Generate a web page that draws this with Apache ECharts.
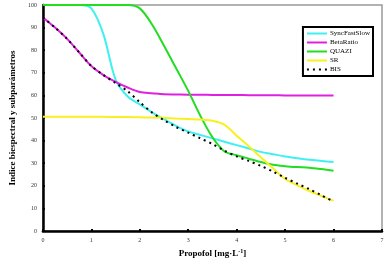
<!DOCTYPE html>
<html>
<head>
<meta charset="utf-8">
<script src="https://cdn.jsdelivr.net/npm/echarts@6/dist/echarts.min.js"></script>
<style>
  html, body { margin: 0; padding: 0; background: #fff; }
  #chart { width: 387px; height: 263px; }
</style>
</head>
<body>
<div id="chart"></div>
<script>
// propofol concentration [mg/L], same grid for every series
const dose = [0, 0.25, 0.5, 0.75, 1, 1.25, 1.5, 1.75, 2, 2.25, 2.5, 2.75, 3,
  3.25, 3.5, 3.75, 4, 4.25, 4.5, 4.75, 5, 5.25, 5.5, 5.75, 6]

const syncFastSlow = [100, 100, 100, 100, 98.5, 87, 67, 59.5, 56, 52.5, 49.5, 46.5, 44,
  42.5, 41, 39.5, 38, 36.5, 35, 34, 33, 32.2, 31.5, 31, 30.5]
const betaRatio = [94.5, 90, 85, 79, 73, 69, 66, 63.5, 61.5, 61, 60.5, 60.4, 60.3,
  60.3, 60.2, 60.2, 60.2, 60.1, 60.1, 60.1, 60, 60, 60, 60, 60]
const quazi = [100, 100, 100, 100, 100, 100, 100, 100, 98.5, 91.5, 82, 72, 62,
  51, 41.5, 35.2, 33.5, 32, 30.5, 29.3, 28.7, 28.3, 28, 27.4, 26.7]
const sr = [50.5, 50.5, 50.5, 50.5, 50.5, 50.5, 50.4, 50.4, 50.3, 50.2, 50.1, 49.8, 49.6,
  49.3, 48.8, 47, 42.2, 37.5, 32.6, 27.8, 23, 20.2, 17.7, 15.5, 13.3]
const bis = [94.5, 90, 85, 79, 73, 69, 65.5, 61.8, 57, 52.5, 49, 46, 43.5,
  41, 38.5, 35.5, 33, 31, 28.8, 26.3, 23.5, 21, 18.5, 15.8, 13]

const serif = '"Liberation Serif", "DejaVu Serif", serif'

function lineSeries(name, ys, color, lineType) {
  return {
    name,
    type: 'line',
    data: dose.map((x, i) => [x, ys[i]]),
    smooth: 0.3,
    symbol: 'none',
    lineStyle: { color, width: 2, type: lineType },
    itemStyle: { color },
  }
}

const chart = echarts.init(document.getElementById('chart'))
chart.setOption({
  animation: false,
  backgroundColor: '#fff',
  grid: {
    left: 36, right: 5, top: 5, bottom: 29,
    show: true,
    borderColor: '#999',
    borderWidth: 1.5,
  },
  legend: {
    orient: 'vertical',
    right: 14,
    top: 27,
    padding: [3, 3, 3, 3],
    itemGap: 2,
    itemWidth: 20,
    itemHeight: 6,
    borderColor: '#000',
    borderWidth: 2,
    borderRadius: 0,
    backgroundColor: '#fff',
    itemStyle: { color: 'transparent', borderWidth: 0 },
    textStyle: { fontFamily: serif, fontSize: 7, color: '#000', padding: [0, 0, 0, -2] },
    data: ['SyncFastSlow', 'BetaRatio', 'QUAZI', 'SR', 'BIS'],
  },
  xAxis: {
    type: 'value',
    min: 0,
    max: 7,
    interval: 1,
    name: 'Propofol [mg·L{sup|-1}]',
    nameLocation: 'middle',
    nameGap: 17,
    nameTextStyle: {
      fontFamily: serif, fontSize: 9, fontWeight: 'bold', color: '#000',
      rich: { sup: { fontFamily: serif, fontSize: 6, fontWeight: 'bold', verticalAlign: 'top', padding: [0, 0, 5, 0] } },
    },
    axisLine: { lineStyle: { color: '#000', width: 2.5 } },
    axisTick: { show: true, inside: true, length: 2, lineStyle: { color: '#000', width: 2 } },
    axisLabel: { fontFamily: serif, fontSize: 6, color: '#333', margin: 6 },
    splitLine: { show: false },
  },
  yAxis: {
    type: 'value',
    min: 0,
    max: 100,
    interval: 10,
    name: 'Indice biespectral y subparámetros',
    nameLocation: 'middle',
    nameRotate: 90,
    nameGap: 23,
    nameTextStyle: { fontFamily: serif, fontSize: 9, fontWeight: 'bold', color: '#000' },
    axisLine: { show: true, lineStyle: { color: '#000', width: 2.5 } },
    axisTick: { show: true, inside: true, length: 2, lineStyle: { color: '#000', width: 2 } },
    axisLabel: { fontFamily: serif, fontSize: 6, color: '#333', margin: 6 },
    splitLine: { show: false },
  },
  series: [
    lineSeries('SyncFastSlow', syncFastSlow, '#3ff0f0', 'solid'),
    lineSeries('BetaRatio', betaRatio, '#e020e0', 'solid'),
    lineSeries('QUAZI', quazi, '#22dd22', 'solid'),
    lineSeries('SR', sr, '#f8f020', 'solid'),
    lineSeries('BIS', bis, '#000', [2, 4]),
  ],
})
</script>
</body>
</html>
